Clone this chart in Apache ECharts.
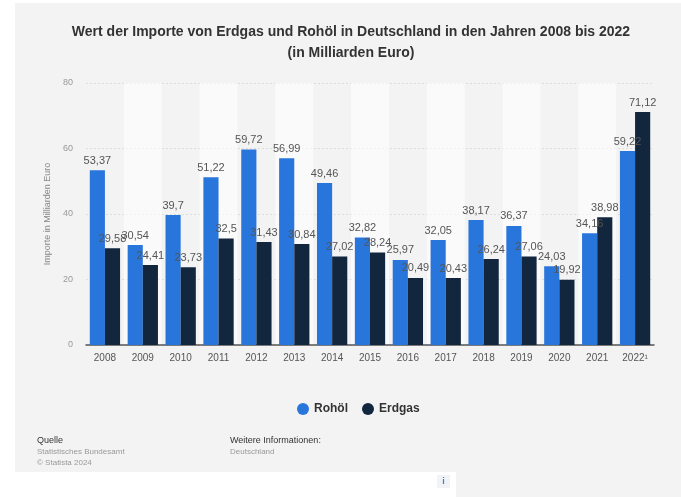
<!DOCTYPE html>
<html>
<head>
<meta charset="utf-8">
<script src="https://cdn.jsdelivr.net/npm/echarts@6/dist/echarts.min.js"></script>
<style>
  html, body { margin: 0; padding: 0; background: #ffffff; }
  #chart { width: 681px; height: 497px; }
</style>
</head>
<body>
<div id="chart"></div>
<script>
// Import values in billions of euros
const years = ['2008', '2009', '2010', '2011', '2012', '2013', '2014', '2015', '2016', '2017', '2018', '2019', '2020', '2021', '2022¹'];
const rohoel = [53.37, 30.54, 39.7, 51.22, 59.72, 56.99, 49.46, 32.82, 25.97, 32.05, 38.17, 36.37, 24.03, 34.16, 59.22];
const erdgas = [29.58, 24.41, 23.73, 32.5, 31.43, 30.84, 27.02, 28.24, 20.49, 20.43, 26.24, 27.06, 19.92, 38.98, 71.12];
const yTicks = [0, 20, 40, 60, 80];

const font = '"Liberation Sans", Arial, Helvetica, sans-serif';
const fmt = v => String(v).replace('.', ',');

const chart = echarts.init(document.getElementById('chart'), null, { renderer: 'canvas' });

const labelStyle = {
  show: true,
  position: 'top',
  distance: 4,
  color: '#555555',
  fontFamily: font,
  fontSize: 11,
  formatter: p => fmt(p.value)
};

chart.setOption({
  animation: false,
  backgroundColor: '#ffffff',
  graphic: [
    { type: 'rect', z: -10, silent: true, shape: { x: 15, y: 3, width: 666, height: 494 }, style: { fill: '#f3f3f3' } },
    { type: 'rect', z: -9, silent: true, shape: { x: 15, y: 472, width: 441, height: 25 }, style: { fill: '#ffffff' } },
    { type: 'rect', z: -8, silent: true, shape: { x: 437, y: 475, width: 13, height: 13 }, style: { fill: '#f1f3f6' } },
    { type: 'text', silent: true, style: { x: 443.5, y: 481.5, text: 'i', fill: '#4a7fcf', font: 'bold 9px ' + font, align: 'center', verticalAlign: 'middle' } },
    { type: 'text', silent: true, style: { x: 37, y: 436, text: 'Quelle', fill: '#333333', font: '9px ' + font } },
    { type: 'text', silent: true, style: { x: 37, y: 448, text: 'Statistisches Bundesamt', fill: '#999999', font: '8px ' + font } },
    { type: 'text', silent: true, style: { x: 37, y: 459, text: '© Statista 2024', fill: '#999999', font: '8px ' + font } },
    { type: 'text', silent: true, style: { x: 230, y: 436, text: 'Weitere Informationen:', fill: '#333333', font: '9px ' + font } },
    { type: 'text', silent: true, style: { x: 230, y: 448, text: 'Deutschland', fill: '#999999', font: '8px ' + font } }
  ],
  title: {
    text: 'Wert der Importe von Erdgas und Rohöl in Deutschland in den Jahren 2008 bis 2022\n(in Milliarden Euro)',
    left: 346,
    top: 17,
    textAlign: 'center',
    textStyle: { fontFamily: font, fontSize: 14, fontWeight: 'bold', color: '#333333', lineHeight: 21 }
  },
  legend: {
    data: ['Rohöl', 'Erdgas'],
    top: 398,
    left: 292,
    icon: 'circle',
    itemWidth: 12,
    itemHeight: 12,
    itemGap: 14,
    textStyle: { fontFamily: font, fontSize: 12, fontWeight: 'bold', color: '#333333' }
  },
  grid: { left: 86, right: 27, top: 83, bottom: 152 },
  xAxis: {
    type: 'category',
    data: years,
    axisLine: { lineStyle: { color: '#555555', width: 1.5 } },
    axisTick: { show: false },
    axisLabel: { color: '#555555', fontFamily: font, fontSize: 10, margin: 8 },
    splitArea: { show: true, areaStyle: { color: ['rgba(0,0,0,0)', 'rgba(255,255,255,0.6)'] } }
  },
  yAxis: {
    type: 'value',
    min: 0,
    max: 80,
    interval: 20,
    name: 'Importe in Milliarden Euro',
    nameLocation: 'middle',
    nameGap: 25,
    nameRotate: 90,
    nameTextStyle: { color: '#888888', fontFamily: font, fontSize: 9 },
    axisLine: { show: false },
    axisTick: { show: false },
    axisLabel: {
      color: '#999999', fontFamily: font, fontSize: 9, margin: 13,
      formatter: v => (yTicks.includes(v) ? String(v) : '')
    },
    splitLine: { lineStyle: { color: '#dddddd', type: [2, 2] } }
  },
  series: [
    {
      name: 'Rohöl',
      type: 'bar',
      data: rohoel,
      barGap: '0%',
      barCategoryGap: '20%',
      itemStyle: { color: '#2875dc' },
      label: labelStyle
    },
    {
      name: 'Erdgas',
      type: 'bar',
      data: erdgas,
      itemStyle: { color: '#12263e' },
      label: labelStyle
    }
  ]
});
</script>
</body>
</html>
